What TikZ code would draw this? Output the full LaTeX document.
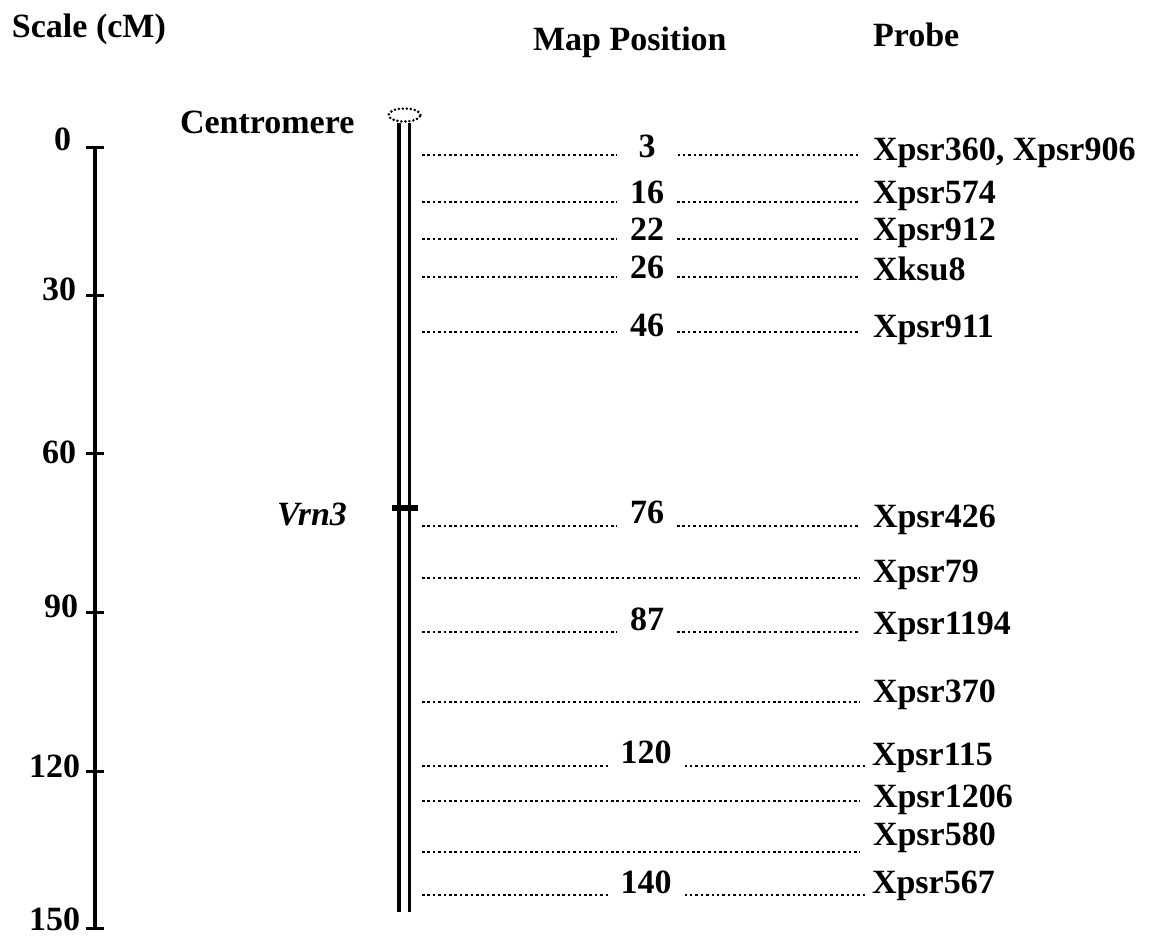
\documentclass[tikz,border=0pt]{standalone}
\usepackage{fontspec}
\setmainfont{Liberation Serif}
\usetikzlibrary{shapes.geometric}
\begin{document}
\begin{tikzpicture}[x=1pt,y=-1pt,
  lbl/.style={font=\fontsize{34}{40}\selectfont\bfseries, inner sep=0pt, outer sep=0pt},
  axis/.style={line width=3.8pt},
  tick/.style={line width=3pt},
  chrom/.style={line width=3.2pt},
  dotline/.style={line width=2.7pt, dash pattern=on 2.5pt off 2.9pt},
  posnum/.style={lbl, inner xsep=13pt, anchor=base},
  probe/.style={lbl, inner xsep=13pt, anchor=base west},
  cen/.style={draw, ellipse, line width=2.8pt, dash pattern=on 0pt off 4pt,
    line cap=round, minimum width=32pt, minimum height=13pt, inner sep=0pt},
]
\useasboundingbox (0,0) rectangle (1153,938);

% column headings
\node[lbl, anchor=base west] (hscale) at (12,37) {Scale (cM)};
\node[lbl, anchor=base west] (hmap) at (533,50) {Map Position};
\node[lbl, anchor=base west] (hprobe) at (873,46) {Probe};

% scale bar in cM
\coordinate (s0) at (95,147);
\coordinate (s30) at (95,295);
\coordinate (s60) at (95,453);
\coordinate (s90) at (95,612);
\coordinate (s120) at (95,771);
\coordinate (s150) at (95,928);
\draw[axis] (s0) -- (s150);
\foreach \t in {s0,s30,s60,s90,s120,s150}
  \draw[tick] ([xshift=-9pt]\t) -- ([xshift=9pt]\t);
\node[lbl, anchor=base east] (l0) at (71,150) {0};
\node[lbl, anchor=base east] (l30) at (76,300) {30};
\node[lbl, anchor=base east] (l60) at (76,463) {60};
\node[lbl, anchor=base east] (l90) at (78,617) {90};
\node[lbl, anchor=base east] (l120) at (80,777) {120};
\node[lbl, anchor=base east] (l150) at (80,930) {150};

% chromosome with centromere
\node[cen] (cen) at (404.5,115) {};
\node[lbl, anchor=base west] (cenlbl) at (180,133) {Centromere};
\coordinate (chLt) at (399,123);
\coordinate (chLb) at (399,912);
\coordinate (chRt) at (409.5,123);
\coordinate (chRb) at (409.5,912);
\draw[chrom] (chLt) -- (chLb);
\draw[chrom] (chRt) -- (chRb);

% Vrn3 locus
\coordinate (vrnA) at (392,508);
\coordinate (vrnB) at (418,508);
\draw[line width=5.5pt] (vrnA) -- (vrnB);
\node[lbl, font=\fontsize{34}{40}\selectfont\bfseries\itshape, anchor=base east] (vrn) at (347,525) {Vrn3};

% marker rows with a map position
\coordinate (r1) at (422,155);
\node[posnum, inner xsep=22pt] (n1) at (647,157) {3};
\node[probe] (p1) at (860,160) {Xpsr360, Xpsr906};
\draw[dotline] (r1) -- (r1 -| n1.west);
\draw[dotline] (r1 -| n1.east) -- (r1 -| p1.west);

\coordinate (r2) at (422,202);
\node[posnum] (n2) at (647,203) {16};
\node[probe] (p2) at (860,203) {Xpsr574};
\draw[dotline] (r2) -- (r2 -| n2.west);
\draw[dotline] (r2 -| n2.east) -- (r2 -| p2.west);

\coordinate (r3) at (422,239);
\node[probe] (p3) at (860,240) {Xpsr912};
\node[posnum] (n3) at (647,240) {22};
\draw[dotline] (r3) -- (r3 -| n3.west);
\draw[dotline] (r3 -| n3.east) -- (r3 -| p3.west);

\coordinate (r4) at (422,277);
\node[posnum] (n4) at (647,278) {26};
\node[probe] (p4) at (860,280) {Xksu8};
\draw[dotline] (r4) -- (r4 -| n4.west);
\draw[dotline] (r4 -| n4.east) -- (r4 -| p4.west);

\coordinate (r5) at (422,332);
\node[posnum] (n5) at (647,336) {46};
\node[probe] (p5) at (860,337) {Xpsr911};
\draw[dotline] (r5) -- (r5 -| n5.west);
\draw[dotline] (r5 -| n5.east) -- (r5 -| p5.west);

\coordinate (r6) at (422,526);
\node[posnum] (n6) at (647,523) {76};
\node[probe] (p6) at (860,527) {Xpsr426};
\draw[dotline] (r6) -- (r6 -| n6.west);
\draw[dotline] (r6 -| n6.east) -- (r6 -| p6.west);

% marker rows without a map position
\coordinate (r7) at (422,578);
\node[probe] (p7) at (860,582) {Xpsr79};
\draw[dotline] (r7) -- (r7 -| p7.west);

\coordinate (r8) at (422,632);
\node[posnum] (n8) at (647,630) {87};
\node[probe] (p8) at (860,634) {Xpsr1194};
\draw[dotline] (r8) -- (r8 -| n8.west);
\draw[dotline] (r8 -| n8.east) -- (r8 -| p8.west);

\coordinate (r9) at (422,702);
\node[probe] (p9) at (860,702) {Xpsr370};
\draw[dotline] (r9) -- (r9 -| p9.west);

\coordinate (r10) at (422,766);
\node[posnum] (n10) at (646,763) {120};
\node[probe, inner xsep=4pt] (p10) at (868,765) {Xpsr115};
\draw[dotline] (r10) -- (r10 -| n10.west);
\draw[dotline] (r10 -| n10.east) -- (r10 -| p10.west);

\coordinate (r11) at (422,801);
\node[probe] (p11) at (860,807) {Xpsr1206};
\draw[dotline] (r11) -- (r11 -| p11.west);

\coordinate (r12) at (422,852);
\node[probe] (p12) at (860,845) {Xpsr580};
\draw[dotline] (r12) -- (r12 -| p12.west);

\coordinate (r13) at (422,895);
\node[posnum] (n13) at (646,893) {140};
\node[probe, inner xsep=4pt] (p13) at (868,893) {Xpsr567};
\draw[dotline] (r13) -- (r13 -| n13.west);
\draw[dotline] (r13 -| n13.east) -- (r13 -| p13.west);
\end{tikzpicture}
\end{document}
